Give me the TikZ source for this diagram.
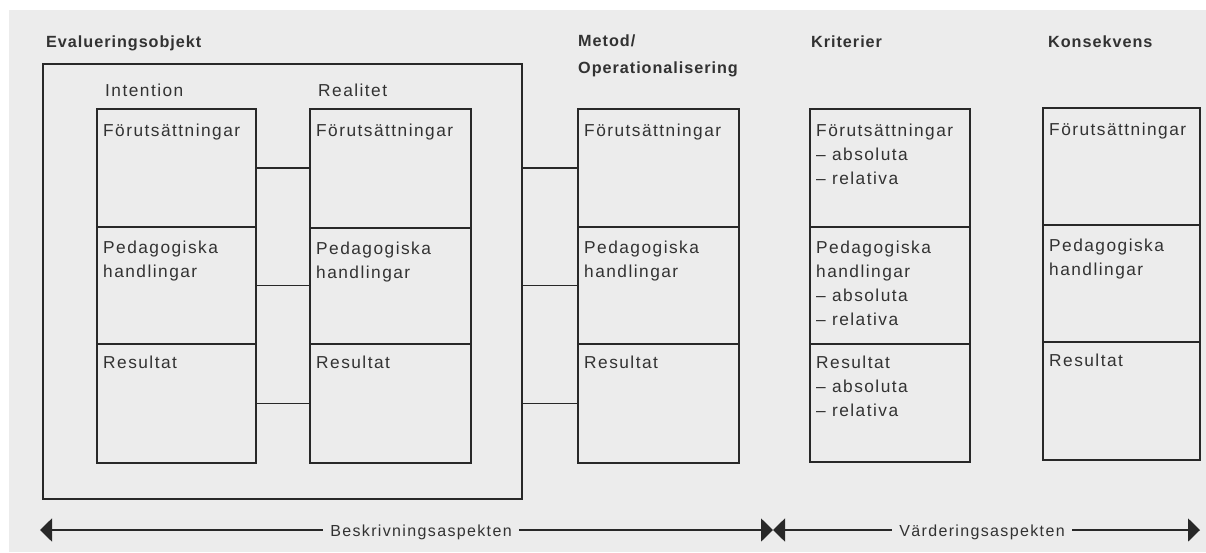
\documentclass[tikz,border=0pt]{standalone}
\usepackage{fontspec}
\setmainfont{Liberation Sans}[LetterSpace=8.5]
\newfontfamily\hfont{Liberation Sans}[LetterSpace=6]
\usetikzlibrary{arrows.meta,calc}
\definecolor{bg}{RGB}{236,236,236}
\definecolor{ln}{RGB}{40,40,40}
\definecolor{tx}{RGB}{50,50,50}
\begin{document}
\begin{tikzpicture}[x=1pt,y=-1pt,
  cell/.style 2 args={draw=ln, line width=2pt, minimum width=#1, minimum height=#2, anchor=north west, inner sep=0pt},
  txt/.style={anchor=base west, inner sep=0pt, text=tx, font=\fontsize{17.3}{24}\selectfont},
  head/.style={anchor=base west, inner sep=0pt, text=tx, font=\hfont\bfseries\fontsize{16.2}{24}\selectfont},
  conn/.style={draw=ln, line width=1.5pt},
  frm/.style={draw=ln, line width=1.8pt, anchor=north west, inner sep=0pt},
  aspect/.style={anchor=base, fill=bg, inner xsep=7pt, inner ysep=2pt, text=tx, font=\fontsize{16}{20}\selectfont},
  arr/.style={draw=ln, line width=1.8pt, {Triangle[length=12pt,width=23pt]}-{Triangle[length=12pt,width=23pt]}}
]
\useasboundingbox (0,0) rectangle (1206,552);
\fill[white] (0,0) rectangle (1206,552);
\fill[bg] (9,10) rectangle (1206,552);

% headings
\node[head] (hE) at (46,47) {Evalueringsobjekt};
\node[head] (hM1) at (578,46) {Metod/};
\node[head] (hM2) at (578,73) {Operationalisering};
\node[head] (hK) at (811,47) {Kriterier};
\node[head] (hC) at (1048,47) {Konsekvens};
\node[txt] (hI) at (105,96) {Intention};
\node[txt] (hR) at (318,96) {Realitet};

% frame
\node[frm, minimum width=479pt, minimum height=435pt] (frame) at (42,63) {};

% Intention column
\node[cell={159pt}{118pt}] (I1) at (96,108) {};
\node[cell={159pt}{117pt}] (I2) at (96,226) {};
\node[cell={159pt}{119pt}] (I3) at (96,343) {};
% Realitet column
\node[cell={161pt}{119pt}] (R1) at (309,108) {};
\node[cell={161pt}{116pt}] (R2) at (309,227) {};
\node[cell={161pt}{119pt}] (R3) at (309,343) {};
% Metod column
\node[cell={161pt}{118pt}] (M1) at (577,108) {};
\node[cell={161pt}{117pt}] (M2) at (577,226) {};
\node[cell={161pt}{119pt}] (M3) at (577,343) {};
% Kriterier column
\node[cell={160pt}{118pt}] (K1) at (809,108) {};
\node[cell={160pt}{117pt}] (K2) at (809,226) {};
\node[cell={160pt}{118pt}] (K3) at (809,343) {};
% Konsekvens column
\node[cell={157pt}{117pt}] (C1) at (1042,107) {};
\node[cell={157pt}{117pt}] (C2) at (1042,224) {};
\node[cell={157pt}{118pt}] (C3) at (1042,341) {};

% connectors
\foreach \r in {1,2,3}{
  \draw[conn] (I\r.east) -- (I\r.east -| R\r.west);
  \draw[conn] (M\r.west -| frame.east) -- (M\r.west);
}

% cell texts
\foreach \c in {I,R,M,K,C}{
  \node[txt] (\c1a) at ($(\c1.north west)+(7,28)$) {Förutsättningar};
  \node[txt] (\c2a) at ($(\c2.north west)+(7,27)$) {Pedagogiska};
  \node[txt] (\c2b) at ($(\c2.north west)+(7,51)$) {handlingar};
  \node[txt] (\c3a) at ($(\c3.north west)+(7,25)$) {Resultat};
}
\node[txt] (K1b) at ($(K1.north west)+(7,52)$) {– absoluta};
\node[txt] (K1c) at ($(K1.north west)+(7,76)$) {– relativa};
\node[txt] (K2c) at ($(K2.north west)+(7,75)$) {– absoluta};
\node[txt] (K2d) at ($(K2.north west)+(7,99)$) {– relativa};
\node[txt] (K3b) at ($(K3.north west)+(7,49)$) {– absoluta};
\node[txt] (K3c) at ($(K3.north west)+(7,73)$) {– relativa};

% aspect arrows
\coordinate (aL) at (40,530);
\coordinate (aM) at (773,530);
\coordinate (aR) at (1200,530);
\draw[arr] (aL) -- (aM);
\draw[arr] (aM) -- (aR);
\node[aspect] (lB) at (421,536) {Beskrivningsaspekten};
\node[aspect] (lV) at (982,536) {Värderingsaspekten};
\end{tikzpicture}
\end{document}
